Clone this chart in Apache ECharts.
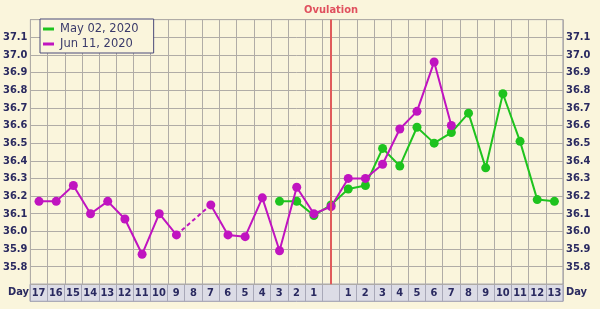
<!DOCTYPE html>
<html><head><meta charset="utf-8">
<script src="https://cdn.jsdelivr.net/npm/echarts@6/dist/echarts.min.js"></script>
<style>html,body{margin:0;padding:0;background:#faf5dc}#c{width:600px;height:309px}</style>
</head><body><div id="c"></div>
<script>
// Categories: days before ovulation, ovulation column, days after
const categories = ['b17','b16','b15','b14','b13','b12','b11','b10','b9','b8','b7','b6','b5','b4','b3','b2','b1','ov','a1','a2','a3','a4','a5','a6','a7','a8','a9','a10','a11','a12','a13'];
const dayLabels = ['17','16','15','14','13','12','11','10','9','8','7','6','5','4','3','2','1','','1','2','3','4','5','6','7','8','9','10','11','12','13'];
const may02 = [null,null,null,null,null,null,null,null,null,null,null,null,null,null,36.17,36.17,36.09,36.15,36.24,36.26,36.47,36.37,36.59,36.50,36.56,36.67,36.36,36.78,36.51,36.18,36.17];
const jun11 = [36.17,36.17,36.26,36.10,36.17,36.07,35.87,36.10,35.98,null,36.15,35.98,35.97,36.19,35.89,36.25,36.10,36.14,36.30,36.30,36.38,36.58,36.68,36.96,36.60,null,null,null,null,null,null];
const yTicks = ['35.8','35.9','36.0','36.1','36.2','36.3','36.4','36.5','36.6','36.7','36.8','36.9','37.0','37.1'];
const ovulationIndex = 17;

function bridge(arr){
  const out = arr.map(()=>null);
  let last = -1;
  for (let i=0;i<arr.length;i++){
    if (arr[i]!=null){
      if (last>=0 && i-last>1){ out[last]=arr[last]; out[i]=arr[i]; }
      last=i;
    }
  }
  return out;
}

const GREEN='#1ec31e', MAG='#c014c0', TXT='#2a2a60';
const FONT='DejaVu Sans Condensed';
const chart = echarts.init(document.getElementById('c'));
const yLabel = {show:true,color:TXT,fontFamily:FONT,fontWeight:'bold',fontSize:11,margin:3,
  showMinLabel:false,showMaxLabel:false,
  formatter:(v)=>{const s=v.toFixed(1);return yTicks.indexOf(s)>=0?s:'';}};
chart.setOption({
  backgroundColor:'#faf5dc',
  animation:false,
  grid:[
    {left:30,right:37,top:19.6,bottom:24.7,show:true,borderColor:'#8c8ca6',borderWidth:1,backgroundColor:'transparent'},
    {left:30,right:37,top:284.3,height:17,show:true,borderColor:'#9a9aae',borderWidth:1,backgroundColor:'#dcdce6'}
  ],
  legend:{
    data:['May 02, 2020','Jun 11, 2020'],orient:'vertical',left:40,top:19,
    itemWidth:11,itemHeight:3,itemGap:3,icon:'rect',
    padding:[4,15,3,3],backgroundColor:'#faf5dc',borderColor:'#4a4a7a',borderWidth:1,borderRadius:0,
    textStyle:{color:'#3a3a6a',fontFamily:'DejaVu Sans',fontSize:11.5,padding:[0,0,0,1]}
  },
  xAxis:[
    {type:'category',gridIndex:0,data:categories,boundaryGap:true,
     axisLine:{show:false},axisTick:{show:false},axisLabel:{show:false},
     splitLine:{show:true,interval:0,lineStyle:{color:'#b0aca6',width:1}}},
    {type:'category',gridIndex:1,data:categories,boundaryGap:true,position:'top',
     axisLine:{show:false},axisTick:{show:false},
     axisLabel:{show:true,inside:true,interval:0,margin:3,color:TXT,fontFamily:FONT,fontWeight:'bold',fontSize:11,
       formatter:(v,i)=>dayLabels[i]},
     splitLine:{show:true,interval:0,lineStyle:{color:'#a8a8b8',width:1}}}
  ],
  yAxis:[
    {type:'value',gridIndex:0,min:35.7,max:37.2,interval:0.1,position:'left',
     axisLine:{show:false},axisTick:{show:false},axisLabel:yLabel,
     splitLine:{show:true,lineStyle:{color:'#b0aca6',width:1}}},
    {type:'value',gridIndex:0,min:35.7,max:37.2,interval:0.1,position:'right',
     axisLine:{show:false},axisTick:{show:false},axisLabel:yLabel,splitLine:{show:false}},
    {type:'value',gridIndex:1,show:false}
  ],
  graphic:[
    {type:'text',left:8,top:287,style:{text:'Day',fill:TXT,font:'bold 11px "DejaVu Sans Condensed"'}},
    {type:'text',left:566,top:287,style:{text:'Day',fill:TXT,font:'bold 11px "DejaVu Sans Condensed"'}}
  ],
  series:[
    {name:'May 02, 2020',type:'line',xAxisIndex:0,yAxisIndex:0,data:may02,
     symbol:'circle',symbolSize:9,itemStyle:{color:GREEN},lineStyle:{color:GREEN,width:2},z:3,
     markLine:{silent:true,symbol:'none',animation:false,
       lineStyle:{color:'#e05a5a',width:2,type:'solid'},
       label:{show:true,position:'end',formatter:'Ovulation',color:'#e0505e',fontFamily:FONT,fontWeight:'bold',fontSize:11,distance:4},
       data:[{xAxis:categories[ovulationIndex]}]}},
    {name:'Jun 11, 2020',type:'line',xAxisIndex:0,yAxisIndex:0,data:jun11,
     symbol:'circle',symbolSize:9,itemStyle:{color:MAG},lineStyle:{color:MAG,width:2},z:4},
    {name:'jun11-gap',type:'line',xAxisIndex:0,yAxisIndex:0,data:bridge(jun11),connectNulls:true,
     symbol:'none',lineStyle:{color:MAG,width:2,type:[4,3]},z:2}
  ]
});
</script></body></html>
